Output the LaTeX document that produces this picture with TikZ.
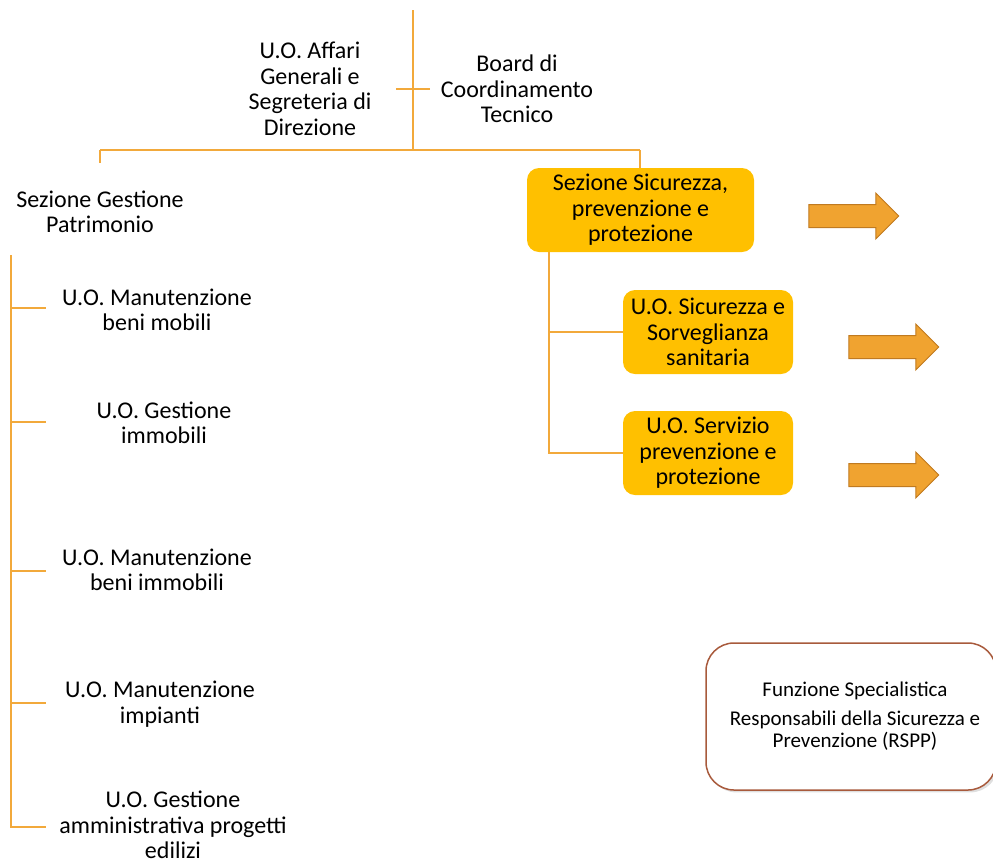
\documentclass[tikz,border=0pt]{standalone}
\usepackage{fontspec}
\setmainfont{Carlito}
\usepackage{xcolor}
\usepackage{tikz}
\usetikzlibrary{shapes, arrows, positioning, shadows}

\definecolor{linegold}{HTML}{F2A93B}
\definecolor{boxgold}{HTML}{FFC000}
\definecolor{arrowfill}{HTML}{F0A330}
\definecolor{arrowedge}{HTML}{C07A20}
\definecolor{rsppedge}{HTML}{A85A3C}

\begin{document}
\begin{tikzpicture}[
        x=1pt, y=-1pt,
        label/.style={align=center, inner sep=0pt, font=\fontsize{24}{25.5}\selectfont},
        unit/.style={rectangle, fill=boxgold, rounded corners=12pt, align=center, inner sep=0pt, font=\fontsize{24}{25.5}\selectfont},
        link/.style={draw=linegold, line width=1.4pt},
        bigarrow/.style={single arrow, draw=arrowedge, fill=arrowfill, line width=1pt, inner sep=11pt, minimum height=90pt, single arrow head extend=11.5pt}
    ]
    \useasboundingbox (0,0) rectangle (993,863);

    % top of the chart
    \coordinate (top) at (413,10);
    \coordinate (hub) at (413,150);
    \coordinate (staffl) at (396,89);
    \coordinate (staffr) at (430,89);
    \coordinate (leftend) at (100,150);
    \coordinate (rightend) at (640,150);
    \coordinate (gestfoot) at (100,163);

    \node [label] (affari) at (310,89) {U.O. Affari\\Generali e\\Segreteria di\\Direzione};
    \node [label] (board) at (517,89) {Board di\\Coordinamento\\Tecnico};

    \draw [link] (top) -- (hub);
    \draw [link] (staffl) -- (staffr);
    \draw [link] (leftend) -- (rightend);
    \draw [link] (leftend) -- (gestfoot);

    % sezione gestione patrimonio
    \node [label] (gestione) at (100,212) {Sezione Gestione\\Patrimonio};
    \coordinate (spinetop) at (11,255);
    \coordinate (spinebot) at (11,828);
    \draw [link] (spinetop) -- (spinebot);

    \node [label] (mobili) at (157,310) {U.O. Manutenzione\\beni mobili};
    \node [label] (immobili) at (164,423) {U.O. Gestione\\immobili};
    \node [label] (beniimm) at (157,570) {U.O. Manutenzione\\beni immobili};
    \node [label] (impianti) at (160,704) {U.O. Manutenzione\\impianti};
    \node [label] (edilizi) at (173,825) {U.O. Gestione\\amministrativa progetti\\edilizi};

    \foreach \y/\name in {308/mobili, 422/immobili, 571/beniimm, 703/impianti, 827/edilizi} {
        \coordinate (tick-\name) at (46,\y);
        \draw [link] (11,\y) -- (tick-\name);
    }

    % sezione sicurezza
    \node [unit, minimum width=227pt, minimum height=84pt] (sicurezza) at (640.5,210) {Sezione Sicurezza,\\prevenzione e\\protezione};
    \node [unit, minimum width=170pt, minimum height=84pt] (sorveglianza) at (708,332) {U.O. Sicurezza e\\Sorveglianza\\sanitaria};
    \node [unit, minimum width=170pt, minimum height=84pt] (servizio) at (708,453) {U.O. Servizio\\prevenzione e\\protezione};

    \draw [link] (rightend) -- (sicurezza.north -| rightend);
    \coordinate (sicfoot) at (549,252);
    \draw [link] (sicfoot) |- (sorveglianza.west);
    \draw [link] (sicfoot) |- (servizio.west);

    \node [bigarrow] (arr1) at (848,216) {};
    \node [bigarrow] (arr2) at (888,347) {};
    \node [bigarrow] (arr3) at (888,475) {};

    % funzione specialistica
    \node [rectangle, draw=rsppedge, line width=1.5pt, fill=white, rounded corners=28pt, drop shadow={opacity=0.25},
           minimum width=290pt, minimum height=147pt] (rsppbox) at (851,716.5) {};
    \node [align=center, inner sep=0pt, font=\fontsize{21}{22}\selectfont] (rspp) at (855,716) {Funzione Specialistica\\[7pt]Responsabili della Sicurezza e\\Prevenzione (RSPP)};
\end{tikzpicture}
\end{document}
